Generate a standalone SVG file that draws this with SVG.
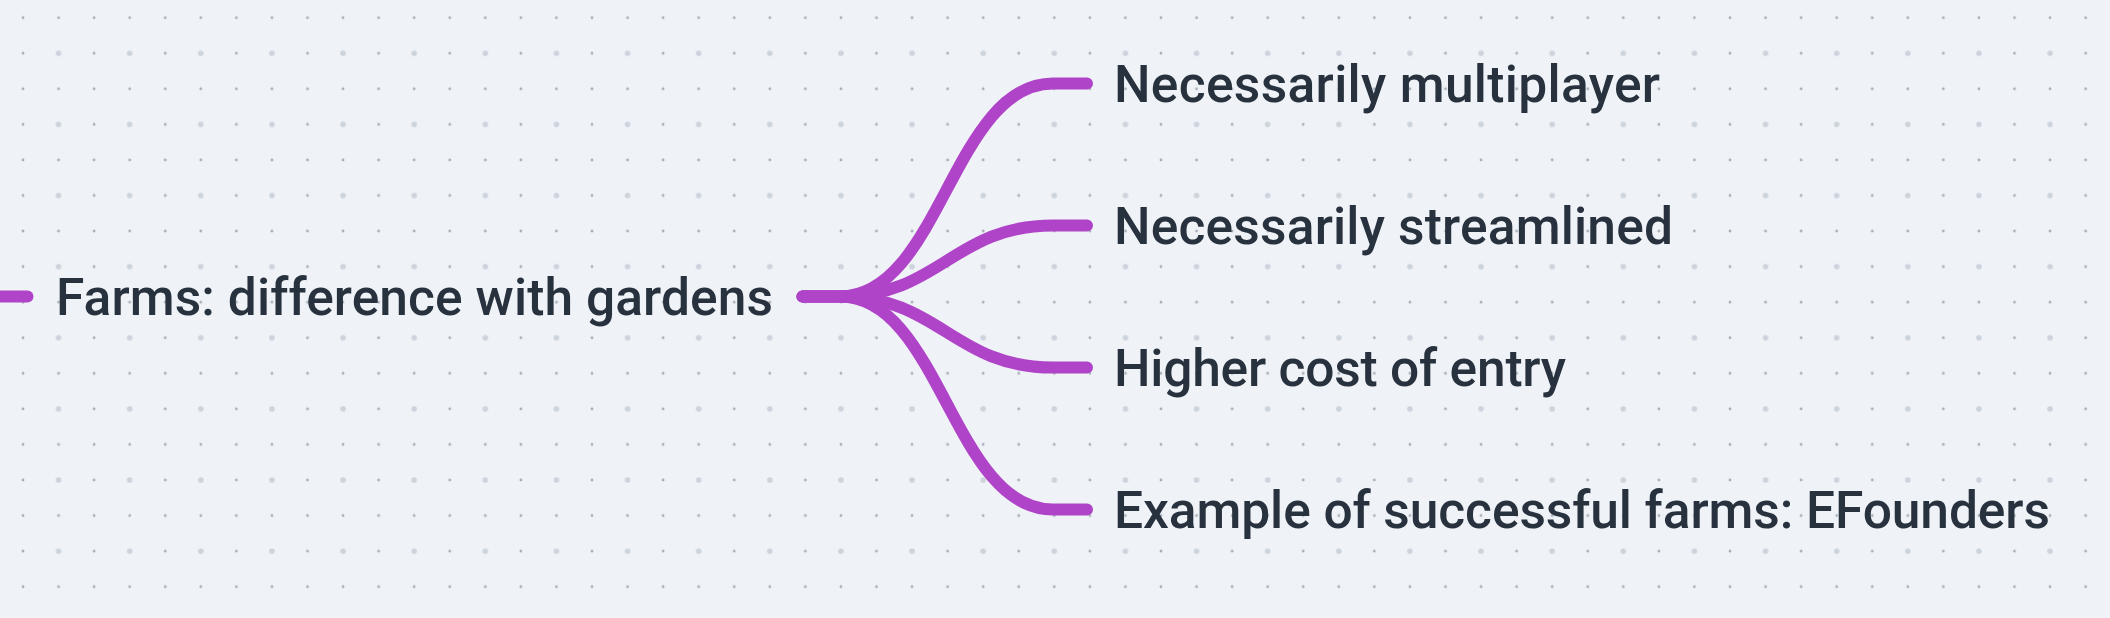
<svg xmlns="http://www.w3.org/2000/svg" width="2110" height="618" viewBox="0 0 2110 618">
  <defs>
    <pattern id="dots" x="5.22" y="-0.08" width="71.125" height="71.125" patternUnits="userSpaceOnUse">
      <circle cx="17.78" cy="17.78" r="1.4" fill="#a7aeb9"/>
      <circle cx="53.34" cy="17.78" r="1.4" fill="#a7aeb9"/>
      <circle cx="17.78" cy="53.34" r="1.4" fill="#a7aeb9"/>
      <circle cx="53.34" cy="53.34" r="2.8" fill="#cdd3dc"/>
    </pattern>
    <style>
      .edge { fill: none; stroke: #b044c8; stroke-width: 12; stroke-linecap: round; stroke-linejoin: round; }
      .label { font-family: Roboto, "Liberation Sans", Arial, sans-serif; font-weight: 500; font-size: 51.5px; fill: #28323e; }
    </style>
  </defs>
  <rect x="0" y="0" width="2110" height="618" fill="#eff3f7"/>
  <rect x="0" y="0" width="2110" height="618" fill="url(#dots)"/>

  <g id="connectors">
    <path class="edge" d="M -10 296.5 H 27.5"/>
    <path class="edge" d="M 802.5 296.5 H 840 C 940 296.5, 953 83.5, 1053 83.5 H 1087"/>
    <path class="edge" d="M 802.5 296.5 H 840 C 940 296.5, 953 225.5, 1053 225.5 H 1087"/>
    <path class="edge" d="M 802.5 296.5 H 840 C 940 296.5, 953 367.5, 1053 367.5 H 1087"/>
    <path class="edge" d="M 802.5 296.5 H 840 C 940 296.5, 953 509.5, 1053 509.5 H 1087"/>
  </g>

  <g id="node-root">
    <text class="label" x="56" y="315" textLength="717">Farms: difference with gardens</text>
  </g>
  <g id="node-1">
    <text class="label" x="1114" y="102" textLength="546">Necessarily multiplayer</text>
  </g>
  <g id="node-2">
    <text class="label" x="1114" y="244" textLength="559">Necessarily streamlined</text>
  </g>
  <g id="node-3">
    <text class="label" x="1114" y="386" textLength="452">Higher cost of entry</text>
  </g>
  <g id="node-4">
    <text class="label" x="1114" y="528" textLength="936">Example of successful farms: EFounders</text>
  </g>
</svg>
